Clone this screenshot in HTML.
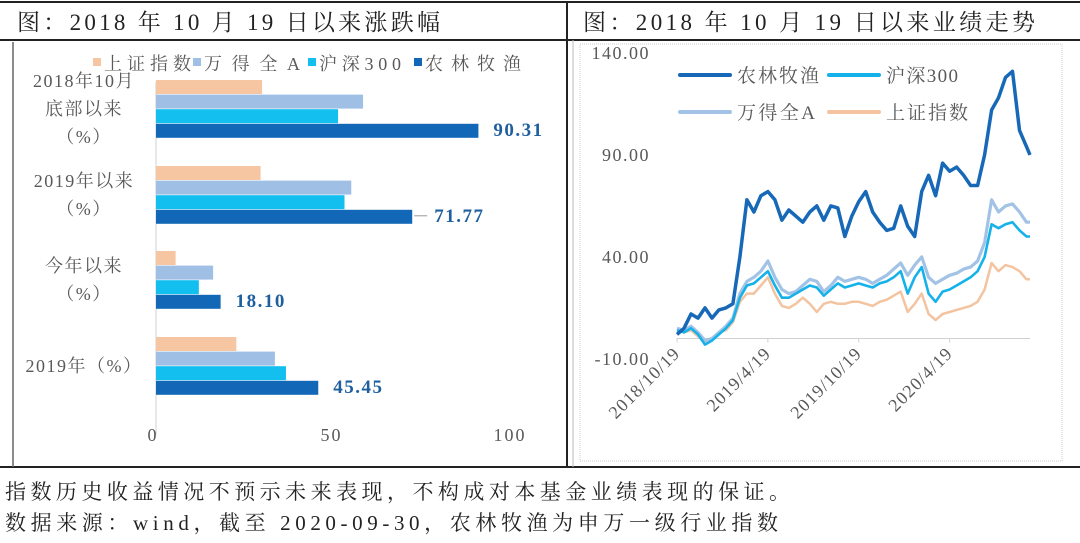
<!DOCTYPE html>
<html><head><meta charset="utf-8">
<style>
html,body{margin:0;padding:0;background:#fff;}
body{width:1080px;height:543px;position:relative;overflow:hidden;font-family:"Liberation Serif","Noto Serif CJK SC",serif;}
</style></head>
<body>
<svg id="root" width="1080" height="543" viewBox="0 0 1080 543" style="position:absolute;left:0;top:0">
  <g>
    <line x1="0" y1="2" x2="1080" y2="2" stroke="#222" stroke-width="2"/>
    <line x1="0" y1="40" x2="1080" y2="40" stroke="#222" stroke-width="2"/>
    <line x1="0" y1="467" x2="1080" y2="467" stroke="#222" stroke-width="2"/>
    <line x1="567" y1="2" x2="567" y2="467" stroke="#222" stroke-width="2"/>
    <line x1="573" y1="40" x2="573" y2="467" stroke="#bbb" stroke-width="1"/>
    <line x1="13" y1="42" x2="13" y2="467" stroke="#666" stroke-width="1.5"/>
    <rect x="580" y="44" width="482" height="417" fill="none" stroke="#ccc" stroke-dasharray="1,1"/>
  </g>
  <text x="17" y="30" font-size="23" fill="#222" textLength="423" lengthAdjust="spacing" font-family="Liberation Serif, Noto Serif CJK SC, serif">图：2018 年 10 月 19 日以来涨跌幅</text>
  <text x="583" y="30" font-size="23" fill="#222" textLength="452" lengthAdjust="spacing" font-family="Liberation Serif, Noto Serif CJK SC, serif">图：2018 年 10 月 19 日以来业绩走势</text>
  <g id="bar-chart"></g>
  <g id="line-chart"></g>
  <text x="5" y="499" font-size="21" fill="#222" textLength="785" lengthAdjust="spacing" font-family="Liberation Serif, Noto Serif CJK SC, serif">指数历史收益情况不预示未来表现，不构成对本基金业绩表现的保证。</text>
  <text x="5" y="530" font-size="21" fill="#222" textLength="773" lengthAdjust="spacing" font-family="Liberation Serif, Noto Serif CJK SC, serif">数据来源：wind，截至 2020-09-30，农林牧渔为申万一级行业指数</text>
</svg>
<script>
const NS="http://www.w3.org/2000/svg";
const FONT="Liberation Serif, Noto Serif CJK SC, serif";
function mk(tag,attrs,parent){const e=document.createElementNS(NS,tag);for(const k in attrs)e.setAttribute(k,attrs[k]);parent.appendChild(e);return e;}

/* ---- bar chart data ---- */
const barCategories=[["2018年10月","底部以来","（%）"],["2019年以来","（%）"],["今年以来","（%）"],["2019年（%）"]];
const barSeriesNames=["上证指数","万得全A","沪深300","农林牧渔"];
const barShanghai=[29.7,29.3,5.5,22.5];
const barWindA=[58,54.7,16,33.3];
const barCsi300=[51,52.8,12,36.4];
const barFarm=[90.31,71.77,18.10,45.45];
const barTicks=[0,50,100];

const barColors=["#f6c6a3","#9fbfe5","#12bfef","#1268b7"];
const bg=document.getElementById('bar-chart');
const bx0=156, bpx=3.57;
const bx=v=>bx0+v*bpx;
const groupTop=[80,166,251,337];
const series=[barShanghai,barWindA,barCsi300,barFarm];
mk('line',{x1:bx0,y1:82,x2:bx0,y2:435,stroke:'#d0d0d0','stroke-width':1},bg);
barTicks.forEach(t=>{
  const e=mk('text',{x:bx(t)-3,y:441,'font-size':18,fill:'#595959','text-anchor':'middle','font-family':FONT,'letter-spacing':2},bg);
  e.textContent=t;
  
  
});
barCategories.forEach((lines,i)=>{
  series.forEach((s,j)=>{
    const r=mk('rect',{x:bx0,y:groupTop[i]+j*14.6,width:bx(s[i])-bx0,height:14,fill:barColors[j]},bg);
    
    
  });
  const v=barFarm[i];
  const ly=groupTop[i]+3*14.6+12;
  const lt=mk('text',{x:bx(v)+(i==1?22:15),y:ly,'font-size':19,fill:'#1f5f9f','font-weight':'bold','font-family':FONT,'letter-spacing':1.5},bg);
  lt.textContent=v.toFixed(2);
  
  
  if(i==1){mk('line',{x1:bx(v)+2,y1:ly-6,x2:bx(v)+15,y2:ly-6,stroke:'#999','stroke-width':1},bg);}
  const n=lines.length, cy=groupTop[i]+29;
  lines.forEach((ln,k)=>{
    const t=mk('text',{x:84,y:cy+(k-(n-1)/2)*28+6,'font-size':18,fill:'#595959','text-anchor':'middle','font-family':FONT,'letter-spacing':1.5},bg);
    t.textContent=ln;
    
    
  });
});
const legX=[93,193,308,414];
const legW=[87,96,82,96];
barSeriesNames.forEach((nm,j)=>{
  const g=mk('g',{},bg);
  
  
  mk('rect',{x:legX[j],y:58,width:8,height:8,fill:barColors[j]},g);
  const t=mk('text',{x:legX[j]+11,y:70,'font-size':18,fill:'#595959','font-family':FONT,textLength:legW[j],lengthAdjust:'spacing'},g);
  t.textContent=nm;
});

/* ---- line chart data ---- */
const weeks=[0,2,4,6,8,10,12,14,16,18,20,22,24,26,28,30,32,34,36,38,40,42,44,46,48,50,52,54,56,58,60,62,64,66,68,70,72,74,76,78,80,82,84,86,88,90,92,94,96,98,100,101];
const farmSeries=[2,5,12,10,15,10,14,15,17,40,68,62,70,72,68,58,63,60,57,62,65,58,65,64,50,60,67,72,62,57,53,54,65,55,50,72,80,70,86,82,84,80,75,75,90,112,118,128,131,102,94,90];
const windASeries=[5,4,6,3,-1,0,3,6,10,22,28,30,33,38,30,24,22,23,26,29,28,23,26,30,28,29,30,29,27,29,31,34,37,31,36,40,30,27,29,31,32,34,35,38,47,68,62,65,66,62,57,57];
const csi300Series=[4,3,5,2,-3,-1,2,5,9,20,26,27,30,33,26,20,20,22,24,26,25,21,24,27,25,26,27,26,25,27,28,30,33,22,30,35,22,18,23,24,26,28,30,33,40,56,54,56,57,53,50,50];
const shanghaiSeries=[4,3,4,1,-2,0,3,4,8,18,22,22,26,30,22,16,15,17,20,17,13,17,18,17,17,18,18,17,16,18,19,21,23,13,17,22,12,9,12,13,14,15,16,18,24,37,33,36,35,33,29,29];
const yTicks=[140,90,40,-10];
const xTickWeeks=[0,26,52,78];
const xTickLabels=["2018/10/19","2019/4/19","2019/10/19","2020/4/19"];

const lg=document.getElementById('line-chart');
const lx0=677, lx1=1030, lw=101;
const X=w=>lx0+(w/lw)*(lx1-lx0);
const Y=v=>338.5-v*2.04;
mk('line',{x1:lx0,y1:Y(0),x2:lx1,y2:Y(0),stroke:'#d0d0d0','stroke-width':1},lg);
yTicks.forEach(t=>{
  const e=mk('text',{x:650,y:Y(t)+6,'font-size':18,fill:'#595959','text-anchor':'end','font-family':FONT,'letter-spacing':1.5},lg);
  e.textContent=t.toFixed(2);
  
  
});
xTickWeeks.forEach((w,i)=>{
  mk('line',{x1:X(w),y1:Y(0),x2:X(w),y2:Y(0)+4,stroke:'#d0d0d0'},lg);
  const e=mk('text',{x:X(w)+4,y:Y(0)+16,'font-size':18,fill:'#595959','text-anchor':'end','font-family':FONT,'letter-spacing':1,transform:`rotate(-45 ${X(w)+4} ${Y(0)+16})`},lg);
  e.textContent=xTickLabels[i];
  
  
});
const lineDefs=[[shanghaiSeries,'#f4c3a0',2.5,'line-shanghai'],[windASeries,'#a3c3e6',3.2,'line-wind-a'],[csi300Series,'#15b2ea',2.6,'line-csi300'],[farmSeries,'#1769b8',3.5,'line-farm']];
lineDefs.forEach(([s,c,sw,nm])=>{
  const d=s.map((v,i)=>(i?'L':'M')+X(weeks[i]).toFixed(1)+','+Y(v).toFixed(1)).join(' ');
  const p=mk('path',{d:d,fill:'none',stroke:c,'stroke-width':sw,'stroke-linejoin':'round'},lg);
  
  
});
const legs=[["农林牧渔",'#1769b8',680,75,82],["沪深300",'#15b2ea',829,75,72],["万得全A",'#a3c3e6',680,112,78],["上证指数",'#f4c3a0',829,112,82]];
legs.forEach(([nm,c,x,y,w])=>{
  const g=mk('g',{},lg);
  
  
  mk('line',{x1:x,y1:y,x2:x+50,y2:y,stroke:c,'stroke-width':4,'stroke-linecap':'round'},g);
  const t=mk('text',{x:x+57,y:y+7,'font-size':19,fill:'#595959','font-family':FONT,textLength:w,lengthAdjust:'spacing'},g);
  t.textContent=nm;
});
</script>
</body></html>
